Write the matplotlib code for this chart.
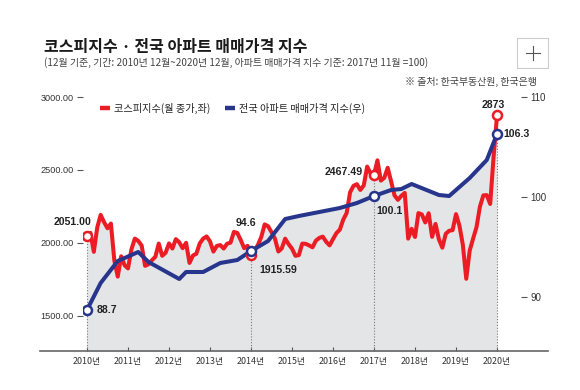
import matplotlib
matplotlib.use("Agg")
import matplotlib.pyplot as plt
from matplotlib import font_manager
from matplotlib.lines import Line2D
from matplotlib.patches import Rectangle

# ── Data ─────────────────────────────────────────────────────────────
# KOSPI month-end close, Dec 2010 .. Dec 2020 (index 0 = Dec 2010)
kospi = [
    2051.00,
    2069.73, 1939.30, 2106.70, 2192.36, 2142.47, 2100.69, 2133.21, 1880.11, 1769.65, 1909.03, 1847.51, 1825.74,
    1955.79, 2030.25, 2014.04, 1981.99, 1843.47, 1854.01, 1881.99, 1905.12, 1996.21, 1912.06, 1932.90, 1997.05,
    1961.94, 2026.49, 2004.89, 1963.95, 2001.05, 1863.32, 1914.03, 1926.36, 1996.96, 2030.09, 2044.87, 2011.34,
    1941.15, 1979.99, 1985.61, 1961.79, 1994.96, 2002.21, 2076.12, 2068.54, 2020.09, 1964.43, 1980.78, 1915.59,
    1949.26, 1985.80, 2041.03, 2127.17, 2114.80, 2074.20, 2030.16, 1941.49, 1962.81, 2029.47, 1991.97, 1961.31,
    1912.06, 1916.66, 1995.85, 1994.15, 1983.40, 1970.35, 2016.19, 2034.65, 2043.63, 2008.19, 1983.48, 2026.46,
    2067.57, 2091.64, 2160.23, 2205.44, 2347.38, 2391.79, 2402.71, 2363.19, 2394.47, 2523.43, 2476.37, 2467.49,
    2566.46, 2427.36, 2445.85, 2515.38, 2423.01, 2326.13, 2295.26, 2322.88, 2343.07, 2029.69, 2096.86, 2041.04,
    2204.85, 2195.44, 2140.67, 2203.59, 2041.74, 2130.62, 2024.55, 1967.79, 2063.05, 2083.48, 2087.96, 2197.67,
    2119.01, 1987.01, 1754.64, 1947.56, 2029.60, 2108.33, 2249.37, 2326.17, 2327.89, 2267.15, 2591.34, 2873.47,
]
months = list(range(len(kospi)))

# apartment price index (2017.11 = 100), read at the line's vertices
apt_months = [0, 4, 9, 15, 18, 27, 29, 34, 39, 44, 48, 53, 58, 62, 68, 74, 79, 84,
              89, 92, 95, 103, 106, 112, 117, 120]
apt_index = [88.7, 91.4, 93.6, 94.5, 93.5, 91.8, 92.5, 92.5, 93.4, 93.7, 94.6, 95.6,
             97.8, 98.1, 98.5, 98.9, 99.4, 100.1, 100.7, 100.8, 101.3, 100.2, 100.1,
             101.9, 103.7, 106.3]

years = ["2010년", "2011년", "2012년", "2013년", "2014년", "2015년",
         "2016년", "2017년", "2018년", "2019년", "2020년"]
year_ticks = list(range(0, 121, 12))

mark_months = [0, 48, 84, 120]
kospi_labels = ["2051.00", "1915.59", "2467.49", "2873"]
apt_labels = ["88.7", "94.6", "100.1", "106.3"]

left_ticks = [1500, 2000, 2500, 3000]
right_ticks = [90, 100, 110]

title = "코스피지수 · 전국 아파트 매매가격 지수"
subtitle = "(12월 기준, 기간: 2010년 12월~2020년 12월, 아파트 매매가격 지수 기준: 2017년 11월 =100)"
source = "※ 출처: 한국부동산원, 한국은행"
legend_labels = ["코스피지수(월 종가,좌)", "전국 아파트 매매가격 지수(우)"]

# ── Style ────────────────────────────────────────────────────────────
RED = "#ec1c24"
BLUE = "#27368c"
FILL = "#e4e5e7"
TXT = "#222222"
GRID = "#555555"

names = {f.name for f in font_manager.fontManager.ttflist}
NARROW = "Liberation Sans Narrow" in names
NUM = "Liberation Sans Narrow" if NARROW else "Liberation Sans"
KR = "Noto Sans CJK KR"
plt.rcParams["font.family"] = [KR, "DejaVu Sans"]

W, H = 580, 390


def fx(px):
    return px / W


def fy(py):
    return 1 - py / H


fig = plt.figure(figsize=(5.8, 3.9), dpi=100)
fig.patch.set_facecolor("white")

L, R, B, T = fx(83), fx(521), fy(351), fy(90)
ax = fig.add_axes([L, B, R - L, T - B])
ax2 = ax.twinx()
ax.patch.set_visible(False)

# fills under both lines (same gray), then lines
ax.fill_between(months, kospi, 1000, color=FILL, lw=0, zorder=1)
ax.fill_between(apt_months, apt_index, 60, color=FILL, lw=0, zorder=1,
                transform=ax2.transData)

kospi_marks = [kospi[m] for m in mark_months]
apt_lookup = dict(zip(apt_months, apt_index))
apt_marks = [apt_lookup[m] for m in mark_months]

ax.vlines(mark_months, 1000, kospi_marks, colors="#7a7a7a",
          linestyles=(0, (1, 1.6)), lw=0.8, zorder=2)

ax.plot(months, kospi, color=RED, lw=2.9, zorder=3,
        solid_joinstyle="round", solid_capstyle="round")
ax.plot(apt_months, apt_index, color=BLUE, lw=2.9, zorder=4,
        solid_joinstyle="round", solid_capstyle="round", transform=ax2.transData)

ax.plot(mark_months, kospi_marks, "o", ms=6.5, mfc="white", mec=RED, mew=1.8, zorder=5)
ax.plot(mark_months, apt_marks, "o", ms=6.5, mfc="white", mec=BLUE, mew=1.8, zorder=6,
        transform=ax2.transData)

# ── Value labels ─────────────────────────────────────────────────────
nsize = 9 if NARROW else 7.6
kospi_offsets = [((3.6, 10), "right"), ((5.8, -10.5), "left"),
                 ((-8, 2), "right"), ((-3, 7.5), "center")]
apt_offsets = [((7.2, 0), "left"), ((-3.6, 20.5), "center"),
               ((1.4, -11), "left"), ((4.3, 0), "left")]
for m, v, lab, (off, ha) in zip(mark_months, kospi_marks, kospi_labels, kospi_offsets):
    ax.annotate(lab, (m, v), xytext=off, textcoords="offset points", ha=ha, va="center",
                fontsize=nsize, fontweight="bold", family=NUM, color=TXT, zorder=7)
for m, v, lab, (off, ha) in zip(mark_months, apt_marks, apt_labels, apt_offsets):
    ax.annotate(lab, (m, v), xycoords=ax2.transData, xytext=off, textcoords="offset points",
                ha=ha, va="center", fontsize=nsize, fontweight="bold", family=NUM,
                color=TXT, zorder=7)

# ── Axes ─────────────────────────────────────────────────────────────
ax.set_xlim(-1.17, 127.02)
ax.set_ylim(1260, 3048)
ax2.set_ylim(84.6, 110.7)

for a in (ax, ax2):
    for s in a.spines.values():
        s.set_visible(False)

ax.set_xticks(year_ticks)
ax.set_xticklabels(years, fontsize=6.4, color="#333333")
ax.tick_params(axis="x", direction="in", length=3, width=0.8, color=GRID, pad=4)

ysize = 8 if NARROW else 6.6
ax.set_yticks(left_ticks)
ax.set_yticklabels([f"{v:.2f}" for v in left_ticks], fontsize=ysize, color="#333333")
ax.tick_params(axis="y", direction="out", length=4.3, width=0.8, color=GRID, pad=2.5)
for t in ax.get_yticklabels():
    t.set_fontfamily(NUM)

ax2.set_yticks(right_ticks)
ax2.set_yticklabels([str(v) for v in right_ticks], fontsize=ysize + 0.4, color="#333333")
ax2.tick_params(axis="y", direction="out", length=4, width=0.8, color=GRID, pad=3)
for t in ax2.get_yticklabels():
    t.set_fontfamily(NUM)

# baseline across the whole chart width
fig.add_artist(Line2D([fx(40), fx(548)], [B, B], color="#666666", lw=1.2))

# ── Legend ───────────────────────────────────────────────────────────
handles = [Line2D([], [], color=RED, lw=3.2, solid_capstyle="butt"),
           Line2D([], [], color=BLUE, lw=3.2, solid_capstyle="butt")]
fig.legend(handles, legend_labels, loc="center left", bbox_to_anchor=(fx(100), fy(108)),
           ncol=2, frameon=False, fontsize=7.3, handlelength=1.0, handletextpad=0.35,
           columnspacing=1.5, borderpad=0, borderaxespad=0, labelcolor=TXT)

# ── Titles ───────────────────────────────────────────────────────────
fig.text(fx(44), fy(47), title, fontsize=11.5, fontweight="bold", color="#1a1a1a",
         ha="left", va="center")
fig.text(fx(44), fy(63), subtitle, fontsize=7.2, color="#444444", ha="left", va="center")
fig.text(fx(537), fy(82), source, fontsize=7.2, color="#444444", ha="right", va="center")

# zoom button in the corner
fig.add_artist(Rectangle((fx(517), fy(68)), fx(31), 30 / H, fill=False, ec="#cccccc",
                         lw=0.8, transform=fig.transFigure))
fig.add_artist(Line2D([fx(526), fx(540)], [fy(53), fy(53)], color="#555555", lw=0.8))
fig.add_artist(Line2D([fx(533), fx(533)], [fy(46), fy(60)], color="#555555", lw=0.8))

fig.savefig("out.png", dpi=100, facecolor="white")
